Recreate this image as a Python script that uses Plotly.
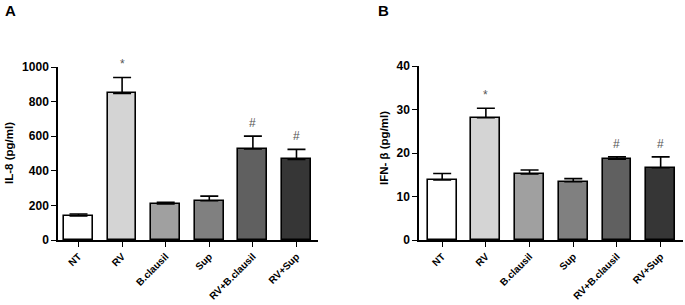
import plotly.graph_objects as go
import numpy as np

categories = ["NT", "RV", "B.clausil", "Sup", "RV+B.clausil", "RV+Sup"]
il8_mean = [139, 848, 208, 227, 526, 466]
il8_err = [11, 92, 10, 27, 75, 58]
ifnb_mean = [13.8, 28.1, 15.2, 13.4, 18.6, 16.6]
ifnb_err = [1.5, 2.2, 0.9, 0.7, 0.5, 2.5]
sig_marks = ["", "*", "", "", "#", "#"]
bar_colors = ["#ffffff", "#d4d4d4", "#a0a0a0", "#808080", "#606060", "#363636"]

FONT = "Liberation Sans, Arial, sans-serif"
x = np.arange(len(categories))

fig = go.Figure()


def add_panel(means, errs, xa, ya):
    fig.add_trace(go.Bar(
        x=x, y=means, width=0.66,
        marker=dict(color=bar_colors, line=dict(color="black", width=1.6)),
        error_y=dict(type="data", array=errs, arrayminus=[0] * len(errs),
                     symmetric=False, color="black", thickness=1.6, width=9),
        xaxis=xa, yaxis=ya, showlegend=False, hoverinfo="skip",
    ))
    for i, (m, e, s) in enumerate(zip(means, errs, sig_marks)):
        if s:
            fig.add_annotation(x=x[i], y=m + e, text=s, showarrow=False,
                               xref=xa, yref=ya, yanchor="bottom", yshift=4,
                               font=dict(family=FONT, size=12, color="#555"))


add_panel(il8_mean, il8_err, "x", "y")
add_panel(ifnb_mean, ifnb_err, "x2", "y2")

axis_common = dict(showline=True, linecolor="black", linewidth=1.6,
                   ticks="outside", ticklen=5, tickwidth=1.4, tickcolor="black",
                   showgrid=False, zeroline=False, automargin=False)
xfont = dict(family=FONT, size=10, color="black", weight="bold")
yfont = dict(family=FONT, size=12, color="black", weight="bold")

fig.update_layout(
    width=685, height=305,
    margin=dict(l=0, r=0, t=0, b=0),
    paper_bgcolor="white", plot_bgcolor="white",
    bargap=0,
    xaxis=dict(domain=[0.0847, 0.464], range=[-0.47, 5.49], tickvals=list(x),
               ticktext=categories, tickangle=-45, tickfont=xfont, anchor="y",
               **axis_common),
    yaxis=dict(domain=[0.2131, 0.780], range=[0, 1000], tickvals=[0, 200, 400, 600, 800, 1000],
               tickfont=yfont, anchor="x", **axis_common),
    xaxis2=dict(domain=[0.6117, 0.997], range=[-0.53, 5.51], tickvals=list(x),
                ticktext=categories, tickangle=-45, tickfont=xfont, anchor="y2",
                **axis_common),
    yaxis2=dict(domain=[0.2131, 0.7836], range=[0, 40], tickvals=[0, 10, 20, 30, 40],
                tickfont=yfont, anchor="x2", **axis_common),
)

fig.add_annotation(x=10 / 685, y=1 - 10 / 305, xref="paper", yref="paper", text="<b>A</b>",
                   showarrow=False, xanchor="center", yanchor="middle",
                   font=dict(family=FONT, size=15, color="black"))
fig.add_annotation(x=383 / 685, y=1 - 10 / 305, xref="paper", yref="paper", text="<b>B</b>",
                   showarrow=False, xanchor="center", yanchor="middle",
                   font=dict(family=FONT, size=15, color="black"))
fig.add_annotation(x=9 / 685, y=1 - 153 / 305, xref="paper", yref="paper", text="<b>IL-8 (pg/ml)</b>",
                   showarrow=False, textangle=-90, xanchor="center", yanchor="middle",
                   font=dict(family=FONT, size=11.5, color="black"))
fig.add_annotation(x=384 / 685, y=1 - 148 / 305, xref="paper", yref="paper", text="<b>IFN- β (pg/ml)</b>",
                   showarrow=False, textangle=-90, xanchor="center", yanchor="middle",
                   font=dict(family=FONT, size=11.5, color="black"))

fig.write_html("out.html", config={"displayModeBar": False},
               post_script="document.body.style.margin='0';document.body.style.padding='0';")
